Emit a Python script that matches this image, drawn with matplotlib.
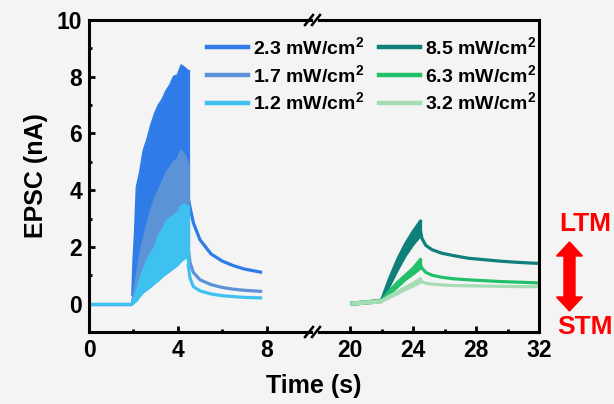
import matplotlib
matplotlib.use("Agg")
import matplotlib.pyplot as plt
from matplotlib.patches import Polygon
from matplotlib.lines import Line2D

plt.rcParams['font.family'] = ['Liberation Sans', 'DejaVu Sans']
plt.rcParams['font.weight'] = 'bold'
plt.rcParams['mathtext.fontset'] = 'custom'
plt.rcParams['mathtext.bf'] = 'Liberation Sans:bold'
plt.rcParams['mathtext.rm'] = 'Liberation Sans:bold'
plt.rcParams['mathtext.default'] = 'bf'

# ---------------- data ----------------
labels_left = ["2.3 mW/cm$^2$", "1.7 mW/cm$^2$", "1.2 mW/cm$^2$"]
labels_right = ["8.5 mW/cm$^2$", "6.3 mW/cm$^2$", "3.2 mW/cm$^2$"]
colors_left = ["#2f7be8", "#5b93d6", "#3ec1f0"]
colors_right = ["#0f7f7a", "#22c06a", "#a6dcb4"]

# left panel: baseline, pulse train (peaks / troughs), decay
base_t_left = [0.0, 1.92]
pulse_t = [1.95, 2.0, 2.07, 2.15, 2.29, 2.46, 2.63, 2.80, 2.97, 3.14, 3.31, 3.48,
           3.65, 3.82, 3.99, 4.16, 4.33, 4.46]
peaks_23 = [0.3, 1.5, 2.5, 4.1, 4.6, 5.4, 5.8, 6.3, 6.7, 7.0, 7.2, 7.5, 7.7, 8.0, 8.05, 8.4, 8.3, 8.2]
trough_23 = [0.0, 0.3, 0.6, 0.8, 1.2, 1.6, 1.9, 2.2, 2.5, 2.8, 3.0, 3.3, 3.5, 3.7, 3.9, 4.1, 4.3, 4.4]
peaks_17 = [0.1, 0.3, 0.6, 1.0, 1.7, 2.3, 2.8, 3.3, 3.7, 4.0, 4.3, 4.6, 4.8, 5.0, 5.1, 5.4, 5.2, 4.9]
trough_17 = [0.0, 0.1, 0.2, 0.3, 0.5, 0.7, 0.9, 1.1, 1.3, 1.5, 1.65, 1.8, 1.95, 2.1, 2.2, 2.35, 2.5, 2.55]
peaks_12 = [0.0, 0.15, 0.3, 0.45, 0.85, 1.2, 1.55, 1.8, 2.0, 2.4, 2.6, 2.9, 3.0, 3.1, 3.2, 3.45, 3.5, 3.4]
trough_12 = [0.0, 0.0, 0.05, 0.1, 0.25, 0.4, 0.5, 0.6, 0.72, 0.82, 0.95, 1.05, 1.15, 1.25, 1.35, 1.5, 1.6, 1.6]

decay_t_left = [4.46, 4.55, 4.7, 5.0, 5.5, 6.0, 6.5, 7.0, 7.8]
decay_23 = [3.8, 3.4, 2.85, 2.25, 1.75, 1.5, 1.34, 1.22, 1.1]
decay_17 = [2.0, 1.45, 1.1, 0.84, 0.67, 0.57, 0.51, 0.47, 0.43]
decay_12 = [1.4, 0.9, 0.6, 0.45, 0.34, 0.28, 0.25, 0.22, 0.2]

# right panel
base_t_right = [20.0, 21.0, 22.0]
base_85 = [0.0, 0.04, 0.1]
base_63 = [0.0, 0.04, 0.1]
base_32 = [0.0, 0.04, 0.08]
rise_t = [22.0, 22.5, 23.0, 23.5, 24.0, 24.45]
rise_up_85 = [0.15, 0.9, 1.55, 2.1, 2.55, 2.9]
rise_lo_85 = [0.1, 0.65, 1.2, 1.7, 2.1, 2.4]
rise_up_63 = [0.12, 0.45, 0.75, 1.0, 1.25, 1.55]
rise_lo_63 = [0.1, 0.35, 0.6, 0.85, 1.05, 1.25]
rise_up_32 = [0.1, 0.27, 0.42, 0.57, 0.72, 0.87]
rise_lo_32 = [0.08, 0.22, 0.35, 0.5, 0.62, 0.75]
decay_t_right = [24.45, 24.55, 24.8, 25.2, 25.8, 26.5, 27.5, 28.5, 29.5, 30.5, 31.5, 32.0]
decay_85 = [2.6, 2.3, 2.05, 1.9, 1.78, 1.7, 1.6, 1.55, 1.5, 1.46, 1.43, 1.42]
decay_63 = [1.4, 1.25, 1.1, 1.0, 0.93, 0.88, 0.84, 0.81, 0.78, 0.76, 0.74, 0.73]
decay_32 = [0.8, 0.78, 0.72, 0.69, 0.66, 0.64, 0.63, 0.62, 0.61, 0.6, 0.6, 0.6]

# ---------------- figure ----------------
W, H = 614, 404
bg = "#f4f4f4"
fig = plt.figure(figsize=(W / 100, H / 100), dpi=100, facecolor=bg)

def fx(px):
    return px / W

def fy(py):
    return 1 - py / H

axL = fig.add_axes([fx(89), fy(332), fx(311) - fx(89), fy(20) - fy(332)])
axR = fig.add_axes([fx(319), fy(332), fx(539) - fx(319), fy(20) - fy(332)])

lw = 2.3
spine_w = 2.2
for ax in (axL, axR):
    ax.set_facecolor(bg)
    ax.set_ylim(-1, 10)
    for s in ax.spines.values():
        s.set_linewidth(spine_w)
        s.set_zorder(10)

axL.set_xlim(0, 10)
axR.set_xlim(18, 32)
axL.spines['right'].set_visible(False)
axR.spines['left'].set_visible(False)

# left traces
left_sets = [
    (peaks_23, trough_23, decay_23),
    (peaks_17, trough_17, decay_17),
    (peaks_12, trough_12, decay_12),
]
handles = []
for k, ((pk, tr, dc), col, lab) in enumerate(zip(left_sets, colors_left, labels_left)):
    z = 2 + k
    axL.fill_between(pulse_t, tr, pk, color=col, lw=0, zorder=z)
    axL.plot(pulse_t, pk, color=col, lw=1.6, zorder=z)
    axL.plot(pulse_t, tr, color=col, lw=1.6, zorder=z)
    axL.plot(base_t_left + [pulse_t[0]], [0.0, 0.0, tr[0]], color=col, lw=lw,
             solid_capstyle='butt', zorder=z)
    axL.plot([pulse_t[-1], pulse_t[-1]], [pk[-1], dc[0]], color=col, lw=lw, zorder=z)
    axL.plot(decay_t_left, dc, color=col, lw=lw, solid_capstyle='butt', zorder=z)
    handles.append(Line2D([], [], color=col, lw=3.2, label=lab))

right_sets = [
    (base_85, rise_up_85, rise_lo_85, decay_85),
    (base_63, rise_up_63, rise_lo_63, decay_63),
    (base_32, rise_up_32, rise_lo_32, decay_32),
]
for k, ((bs, ru, rl, dc), col, lab) in enumerate(zip(right_sets, colors_right, labels_right)):
    z = 2 + k
    axR.plot(base_t_right, bs, color=col, lw=lw + 0.8, solid_capstyle='butt', zorder=z)
    axR.fill_between(rise_t, rl, ru, color=col, lw=0, zorder=z)
    axR.plot(rise_t, ru, color=col, lw=lw, zorder=z)
    axR.plot(rise_t, rl, color=col, lw=lw, zorder=z)
    axR.plot(decay_t_right, dc, color=col, lw=lw, solid_capstyle='butt', zorder=z)
    axR.plot([rise_t[-1], decay_t_right[0]], [ru[-1], dc[0]], color=col, lw=lw, zorder=z)
    handles.append(Line2D([], [], color=col, lw=3.2, label=lab))

# ticks
tick_fs = 16.5
axL.set_xticks([0, 4, 8])
axL.set_xticks([2, 6], minor=True)
axR.set_xticks([20, 24, 28, 32])
axR.set_xticks([22, 26, 30], minor=True)
axL.set_yticks([0, 2, 4, 6, 8, 10])
axL.set_yticks([1, 3, 5, 7, 9], minor=True)
for ax in (axL, axR):
    ax.tick_params(which='major', direction='in', length=4.5, width=2.0,
                   labelsize=tick_fs, pad=5)
    ax.tick_params(which='minor', direction='in', length=2.5, width=2.0)
    for t in ax.get_xticklabels() + ax.get_yticklabels():
        t.set_fontweight('bold')
axR.tick_params(axis='y', which='both', left=False, right=False, labelleft=False)

axL.set_ylabel("EPSC (nA)", fontsize=18, fontweight='bold', labelpad=6)
fig.text(fx(314), fy(386), "Time (s)", fontsize=18, fontweight='bold',
         ha='center', va='center')

# break marks
for xb in (309, 316):
    for yb in (20, 332):
        fig.add_artist(Line2D([fx(xb - 4), fx(xb + 4)], [fy(yb + 5), fy(yb - 5)],
                              color='black', lw=1.8, transform=fig.transFigure))

# legend
leg = fig.legend(handles=handles, ncol=2, loc='upper left',
                 bbox_to_anchor=(fx(207), fy(36)), frameon=False,
                 fontsize=14, handlelength=2.1, handletextpad=0.28,
                 columnspacing=0.75, labelspacing=0.3, borderpad=0,
                 borderaxespad=0)
for t in leg.get_texts():
    t.set_fontweight('bold')

# LTM / STM annotation
red = "#ff0000"
fig.text(fx(585), fy(224), "LTM", color=red, fontsize=19, fontweight='bold',
         ha='center', va='center')
fig.text(fx(585), fy(327), "STM", color=red, fontsize=19, fontweight='bold',
         ha='center', va='center')
xc = 569.5
arrow_px = [(xc, 242), (xc + 13, 256), (xc + 5.5, 256), (xc + 5.5, 297),
            (xc + 13, 297), (xc, 311), (xc - 13, 297), (xc - 5.5, 297),
            (xc - 5.5, 256), (xc - 13, 256)]
fig.add_artist(Polygon([(fx(a), fy(b)) for a, b in arrow_px], closed=True,
                       color=red, transform=fig.transFigure))

fig.savefig("out.png", dpi=100, facecolor=bg)
